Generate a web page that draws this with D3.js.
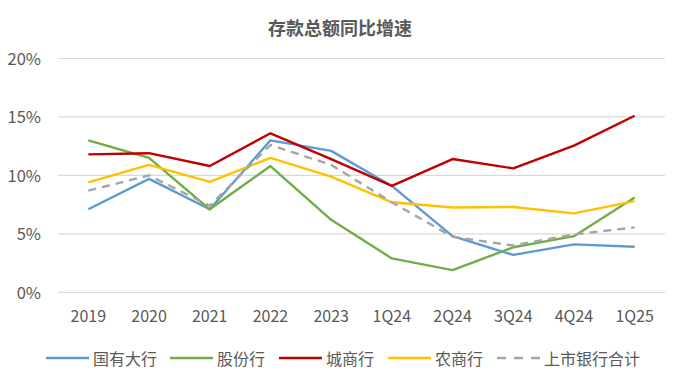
<!DOCTYPE html>
<html><head><meta charset="utf-8">
<script src="https://cdn.jsdelivr.net/npm/d3@7"></script>
<style>
html,body{margin:0;padding:0;background:#fff;}
svg text{font-family:"Noto Sans CJK SC","Noto Sans",sans-serif;fill:#595959;}
</style></head>
<body><svg id="c" width="681" height="385"></svg>
<script>
const categories = ["2019","2020","2021","2022","2023","1Q24","2Q24","3Q24","4Q24","1Q25"];
const seriesNames = ["国有大行","股份行","城商行","农商行","上市银行合计"];
const stateOwned = [7.1, 9.7, 7.1, 13.0, 12.1, 9.1, 4.8, 3.2, 4.1, 3.9];
const jointStock = [13.0, 11.5, 7.1, 10.8, 6.2, 2.9, 1.9, 3.85, 4.8, 8.1];
const cityComm  = [11.8, 11.9, 10.8, 13.6, 11.4, 9.1, 11.4, 10.6, 12.55, 15.1];
const ruralComm = [9.4, 10.9, 9.45, 11.5, 9.9, 7.7, 7.25, 7.3, 6.75, 7.8];
const listedTotal = [8.7, 10.0, 7.4, 12.6, 10.9, 7.7, 4.75, 4.0, 4.95, 5.55];
const yTicks = [0, 5, 10, 15, 20];
const colors = ["#5B9BD5","#70AD47","#C00000","#FFC000","#A5A5A5"];
const allSeries = [stateOwned, jointStock, cityComm, ruralComm, listedTotal];

const svg = d3.select("#c");
const x = d3.scaleBand().domain(categories).range([58, 665]);
const y = d3.scaleLinear().domain([0, 20]).range([292.3, 58.5]);

svg.append("text").attr("x", 340).attr("y", 29).attr("dy","0.35em").attr("text-anchor","middle")
  .attr("font-size", 18).attr("font-weight","bold").text("存款总额同比增速");

// grid
svg.append("g").selectAll("line").data(yTicks).join("line")
  .attr("x1", 58).attr("x2", 665).attr("y1", d=>y(d)).attr("y2", d=>y(d))
  .attr("stroke","#d9d9d9").attr("stroke-width",1.2);

// y labels
const yAxis = d3.axisLeft(y).tickValues(yTicks).tickFormat(d=>d+"%").tickSize(0).tickPadding(0);
const gy = svg.append("g").attr("transform","translate(41,0)").call(yAxis);
gy.select(".domain").remove();
gy.selectAll("text").attr("font-size",16.5).attr("fill","#595959").attr("dy","0.35em").style("font-family",null);

// x labels
const xAxis = d3.axisBottom(x).tickSize(0).tickPadding(0);
const gx = svg.append("g").attr("transform","translate(0,316)").call(xAxis);
gx.select(".domain").remove();
gx.selectAll("text").attr("font-size",16).attr("fill","#595959").attr("dy","0.35em").style("font-family",null);

const line = d3.line().x((d,i)=>x(categories[i]) + x.bandwidth()/2).y(d=>y(d));
allSeries.forEach((s,k)=>{
  svg.append("path").datum(s).attr("d", line).attr("fill","none")
    .attr("stroke", colors[k]).attr("stroke-width", 2.4)
    .attr("stroke-linejoin","round")
    .attr("stroke-dasharray", k===4 ? "8,6" : null);
});

// legend
const legendX = [46, 170, 279, 388, 497];
const lg = svg.append("g");
seriesNames.forEach((n,k)=>{
  lg.append("line").attr("x1", legendX[k]).attr("x2", legendX[k]+43)
    .attr("y1", 358).attr("y2", 358).attr("stroke", colors[k]).attr("stroke-width", 2.4)
    .attr("stroke-dasharray", k===4 ? "9,8" : null);
  lg.append("text").attr("x", legendX[k]+47).attr("y", 359).attr("dy","0.35em").attr("font-size", 16).text(n);
});
</script></body></html>
